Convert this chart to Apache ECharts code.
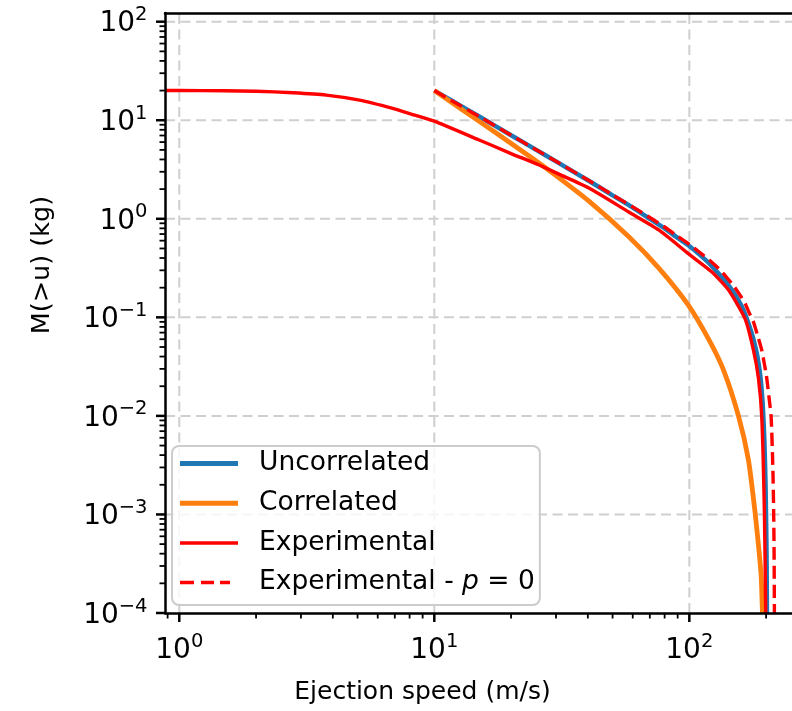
<!DOCTYPE html>
<html><head><meta charset="utf-8">
<script src="https://cdn.jsdelivr.net/npm/echarts@6/dist/echarts.min.js"></script>
<style>html,body{margin:0;padding:0;background:#fff}#c{width:792px;height:711px}</style>
</head><body><div id="c"></div><script>
// ---- data ----
const uncorrelatedU = [10,12,15,20,25,30,40,50,60,70,80,90,100,110,120,130,140,150,160,165,170,175,180,185,190,194,197,199,200.3,201,201.5];
const uncorrelatedM = [20,15.2,10.9,7.05,5.03,3.82,2.46,1.73,1.30,1.00,0.80,0.64,0.53,0.43,0.35,0.28,0.225,0.175,0.132,0.11,0.089,0.071,0.055,0.04,0.025,0.013,0.0055,0.002,0.0007,0.0003,0.0001];

const correlatedU = [10,12.87,17.48,23.53,29.47,40.4,57.9,75.9,98.5,119,136.2,155.9,170.6,181.2,187.5,191.2,193.5];
const correlatedM = [20,12.75,7.43,4.33,2.84,1.51,0.657,0.316,0.136,0.060,0.0291,0.00993,0.00355,0.00103,0.000434,0.000242,0.0001];

const experimentalU = [0.879,1,1.5,2,2.79,3.77,5.09,6.87,8,10,15,20,25.8,30.8,40.4,57.9,75.9,99.4,122.3,142.5,165.6,178.4,186.6,192.3,197,199.3];
const experimentalM = [20,20,19.9,19.7,19.0,18.0,16.0,13.2,11.7,9.8,6.3,4.59,3.51,2.84,2.05,1.17,0.77,0.44,0.29,0.189,0.096,0.0465,0.0242,0.0098,0.00102,0.0001];

const expP0U = [10,12,15,20,25,30,40,50,60,70,80,90,100,110,120,130,140,150,160,165.5,172,178.4,185,192.3,200.6,205,209.3,212.7,214.2,215,215.6];
const expP0M = [20,15.2,10.9,7.05,5.04,3.83,2.48,1.75,1.32,1.03,0.825,0.665,0.55,0.455,0.38,0.315,0.255,0.205,0.16,0.138,0.11,0.09,0.066,0.0465,0.0254,0.016,0.0098,0.0028,0.001,0.0004,0.0001];

const seriesNames = ['Uncorrelated','Correlated','Experimental','Experimental - p = 0'];

const xMajorTicks = [1,10,100];
const xTickExponents = ['0','1','2'];
const xMinorTicks = [0.9,2,3,4,5,6,7,8,9,20,30,40,50,60,70,80,90,200];
const yMajorTicks = [1e-4,1e-3,1e-2,1e-1,1,10,100];
const yTickExponents = ['\u22124','\u22123','\u22122','\u22121','0','1','2'];
const yMinorTicks = [];
[1e-4,1e-3,1e-2,1e-1,1,10].forEach(d => { for (let k = 2; k <= 9; k++) yMinorTicks.push(+(d*k).toPrecision(3)); });

const xMin = 0.879, xMax = 252.7, yMin = 1e-4, yMax = 122.5;

// ---- styling ----
const F = 'DejaVu Sans';
const gridColor = '#cfcfcf';
const spineW = 2.5;
const rich = {
  a: {fontSize: 28, fontFamily: F, lineHeight: 38, fill: '#000'},
  b: {fontSize: 19.5, fontFamily: F, lineHeight: 22, verticalAlign: 'top', fill: '#000'}
};

function zip(u, m) { return u.map((v, i) => [v, m[i]]); }

function renderXMajor(params, api) {
  const u = api.value(0);
  const b = api.coord([u, yMin]), t = api.coord([u, yMax]);
  return {type: 'group', children: [
    {type: 'line', shape: {x1: b[0], y1: b[1], x2: t[0], y2: t[1]}, style: {stroke: gridColor, lineWidth: 2, lineDash: [10, 5.5]}},
    {type: 'line', shape: {x1: b[0], y1: b[1], x2: b[0], y2: b[1] + 9}, style: {stroke: '#000', lineWidth: spineW}},
    {type: 'text', x: b[0], y: b[1] + 19, style: {text: '{a|10}{b|' + xTickExponents[params.dataIndex] + '}', rich: rich, align: 'center', verticalAlign: 'top'}}
  ]};
}
function renderXMinor(params, api) {
  const b = api.coord([api.value(0), yMin]);
  return {type: 'line', shape: {x1: b[0], y1: b[1], x2: b[0], y2: b[1] + 5.5}, style: {stroke: '#000', lineWidth: 1.8}};
}
function renderYMajor(params, api) {
  const m = api.value(1);
  const l = api.coord([xMin, m]), r = api.coord([xMax, m]);
  const children = [
    {type: 'line', shape: {x1: l[0], y1: l[1], x2: l[0] - 9, y2: l[1]}, style: {stroke: '#000', lineWidth: spineW}},
    {type: 'text', x: l[0] - 17.5, y: l[1] + 2.5, style: {text: '{a|10}{b|' + yTickExponents[params.dataIndex] + '}', rich: rich, align: 'right', verticalAlign: 'middle'}}
  ];
  if (m > yMin) children.unshift({type: 'line', shape: {x1: l[0], y1: l[1], x2: r[0], y2: r[1]}, style: {stroke: gridColor, lineWidth: 2, lineDash: [10, 5.5]}});
  return {type: 'group', children: children};
}
function renderYMinor(params, api) {
  const l = api.coord([xMin, api.value(1)]);
  return {type: 'line', shape: {x1: l[0], y1: l[1], x2: l[0] - 5.5, y2: l[1]}, style: {stroke: '#000', lineWidth: 1.8}};
}

const axisCommon = {
  type: 'log', logBase: 10,
  axisTick: {show: false}, axisLabel: {show: false}, splitLine: {show: false}
};

const lineCommon = {type: 'line', symbol: 'none', showSymbol: false, smooth: 0.2, clip: true};

// legend icons: boxes of 58 x 26, corners kept so the path is not rescaled
const iconSolid = (h) => 'path://M0,0L0,0M0,' + (13 - h / 2) + 'H58V' + (13 + h / 2) + 'H0ZM58,26L58,26';
const iconDashed = (h) => {
  const y0 = 13 - h / 2, y1 = 13 + h / 2;
  return 'path://M0,0L0,0' + [[0, 14], [21, 34], [40, 50]].map(d => 'M' + d[0] + ',' + y0 + 'H' + d[1] + 'V' + y1 + 'H' + d[0] + 'Z').join('') + 'M58,26L58,26';
};

const option = {
  animation: false,
  backgroundColor: '#fff',
  grid: {left: 165, top: 13, right: 0, bottom: 98, containLabel: false},
  xAxis: [
    Object.assign({}, axisCommon, {
      min: xMin, max: xMax, position: 'bottom', z: 10,
      axisLine: {show: true, onZero: false, lineStyle: {color: '#000', width: spineW}},
      name: 'Ejection speed (m/s)', nameLocation: 'middle', nameGap: 67,
      nameTextStyle: {fontSize: 25, fontFamily: F, color: '#000', padding: [0, 112, 0, 0]}
    }),
    Object.assign({}, axisCommon, {
      min: xMin, max: xMax, position: 'top', z: 10,
      axisLine: {show: true, onZero: false, lineStyle: {color: '#000', width: spineW}}
    })
  ],
  yAxis: [
    Object.assign({}, axisCommon, {
      min: yMin, max: yMax, position: 'left', z: 10,
      axisLine: {show: true, onZero: false, lineStyle: {color: '#000', width: spineW}},
      name: 'M(>u) (kg)', nameLocation: 'middle', nameGap: 110, nameRotate: 90,
      nameTextStyle: {fontSize: 25.5, fontFamily: F, color: '#000', padding: [0, 0, 0, 96]}
    })
  ],
  legend: {
    orient: 'vertical', left: 172, top: 446, z: 20,
    data: [
      {name: seriesNames[0], icon: iconSolid(5)},
      {name: seriesNames[1], icon: iconSolid(5)},
      {name: seriesNames[2], icon: iconSolid(3.5)},
      {name: seriesNames[3], icon: iconDashed(3.5)}
    ],
    itemWidth: 58, itemHeight: 26, itemGap: 12.7,
    padding: [4, 5, 9, 8],
    backgroundColor: 'rgba(255,255,255,0.8)',
    borderColor: '#cccccc', borderWidth: 2, borderRadius: 7,
    selectedMode: false,
    textStyle: {fontSize: 26.5, fontFamily: F, color: '#000', lineHeight: 26, padding: [0, 0, 0, 16],
      rich: {i: {fontSize: 26.5, fontFamily: F, fontStyle: 'italic', color: '#000'}}},
    formatter: function (name) { return name === seriesNames[3] ? 'Experimental - {i|p} = 0' : name; }
  },
  series: [
    {type: 'custom', silent: true, clip: false, z: 1, encode: {x: 0, y: 1},
      data: xMajorTicks.map(v => [v, 1]), renderItem: renderXMajor},
    {type: 'custom', silent: true, clip: false, z: 1, encode: {x: 0, y: 1},
      data: xMinorTicks.map(v => [v, 1]), renderItem: renderXMinor},
    {type: 'custom', silent: true, clip: false, z: 1, encode: {x: 0, y: 1},
      data: yMajorTicks.map(v => [1, v]), renderItem: renderYMajor},
    {type: 'custom', silent: true, clip: false, z: 1, encode: {x: 0, y: 1},
      data: yMinorTicks.map(v => [1, v]), renderItem: renderYMinor},
    Object.assign({}, lineCommon, {name: seriesNames[0], z: 3, data: zip(uncorrelatedU, uncorrelatedM),
      color: '#1f77b4', lineStyle: {color: '#1f77b4', width: 4.5}}),
    Object.assign({}, lineCommon, {name: seriesNames[1], z: 4, data: zip(correlatedU, correlatedM),
      color: '#ff7f0e', lineStyle: {color: '#ff7f0e', width: 4.8}}),
    Object.assign({}, lineCommon, {name: seriesNames[2], z: 5, data: zip(experimentalU, experimentalM),
      color: '#ff0000', lineStyle: {color: '#ff0000', width: 3.4}}),
    Object.assign({}, lineCommon, {name: seriesNames[3], z: 6, data: zip(expP0U, expP0M),
      color: '#ff0000', lineStyle: {color: '#ff0000', width: 3.4, type: [13, 6]}})
  ]
};

const chart = echarts.init(document.getElementById('c'), null, {renderer: 'canvas'});
chart.setOption(option);
</script></body></html>
